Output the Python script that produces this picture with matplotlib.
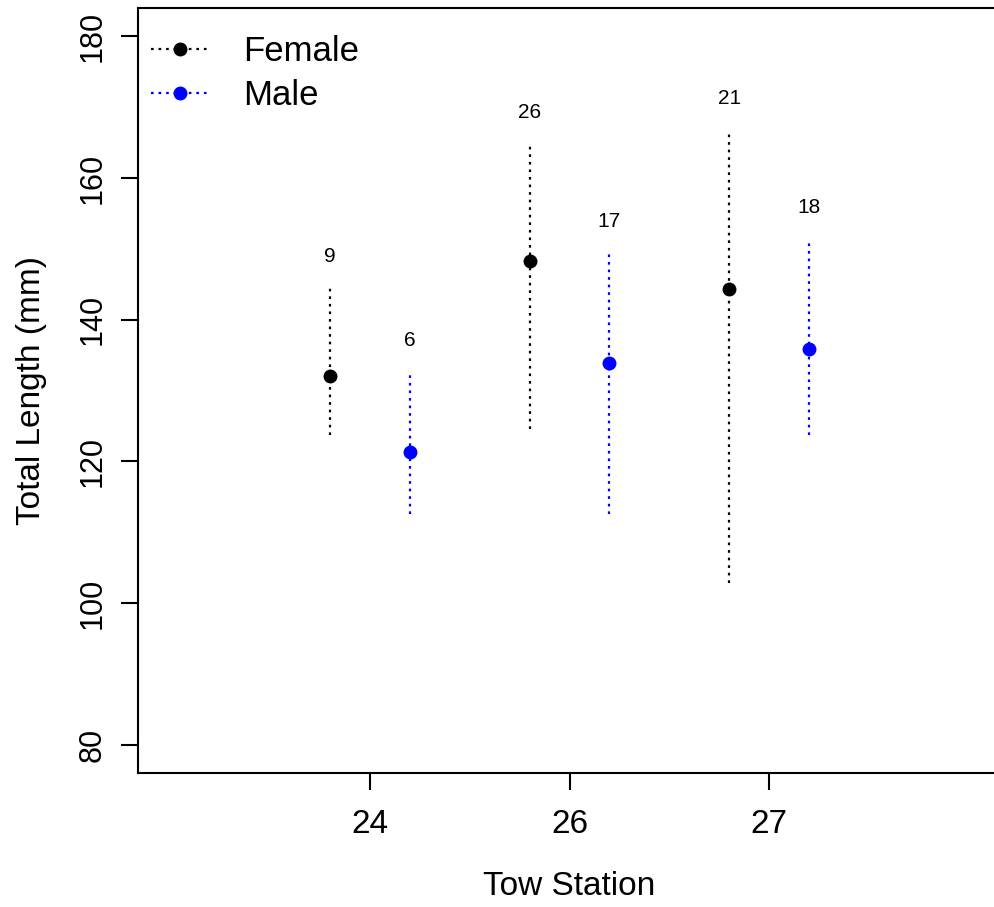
import matplotlib
matplotlib.use("Agg")
import matplotlib.pyplot as plt
from matplotlib.lines import Line2D
import numpy as np

plt.rcParams['font.family'] = ['Liberation Sans', 'DejaVu Sans']

stations = ["24", "26", "27"]
female_mean = [132.0, 148.3, 144.3]
female_low = [123.7, 124.6, 102.8]
female_high = [144.5, 164.8, 166.7]
female_n = [9, 26, 21]
male_mean = [121.3, 133.9, 135.9]
male_low = [112.6, 112.6, 123.7]
male_high = [132.6, 149.4, 151.4]
male_n = [6, 17, 18]

fig = plt.figure(figsize=(9.95, 9.07), dpi=100)
ax = fig.add_axes([138/995, 1-773/907, (1001-138)/995, (773-8)/907])

xc = np.arange(1, len(stations) + 1)
off = 0.2
dash = (0, (1.2, 2.2))
lw = 1.6

for xs, m, lo, hi, n, col in [
    (xc - off, female_mean, female_low, female_high, female_n, 'black'),
    (xc + off, male_mean, male_low, male_high, male_n, 'blue'),
]:
    for x, mm, l, h, k in zip(xs, m, lo, hi, n):
        ax.plot([x, x], [l, h], color=col, lw=lw, linestyle=dash)
        ax.annotate(str(k), (x, h), xytext=(0, 16), textcoords='offset points',
                    ha='center', va='bottom', fontsize=15, color='black')
    ax.plot(xs, m, 'o', color=col, markersize=9, linestyle='none')

ax.set_xlim(-0.16, 4.16)
ax.set_ylim(76, 184)
ax.set_xticks(xc)
ax.set_xticklabels(stations, fontsize=24)
ax.set_yticks([80, 100, 120, 140, 160, 180])
ax.set_yticklabels(["80", "100", "120", "140", "160", "180"], fontsize=22,
                   rotation=90, va='center')
ax.tick_params(axis='both', length=12, width=1.5, color='black')
ax.tick_params(axis='x', pad=14)
ax.tick_params(axis='y', pad=10)
for s in ax.spines.values():
    s.set_linewidth(1.5)

ax.set_xlabel("Tow Station", fontsize=24, labelpad=22)
ax.set_ylabel("Total Length (mm)", fontsize=24, labelpad=22)

handles = [
    Line2D([0], [0], color='black', lw=lw, linestyle=dash, marker='o', markersize=9),
    Line2D([0], [0], color='blue', lw=lw, linestyle=dash, marker='o', markersize=9),
]
ax.legend(handles, ["Female", "Male"], loc='upper left', frameon=False,
          fontsize=25, handlelength=1.65, handletextpad=1.0, labelspacing=0.3,
          borderaxespad=0.3, bbox_to_anchor=(-0.013, 0.996))

fig.savefig("out.png", dpi=100)
